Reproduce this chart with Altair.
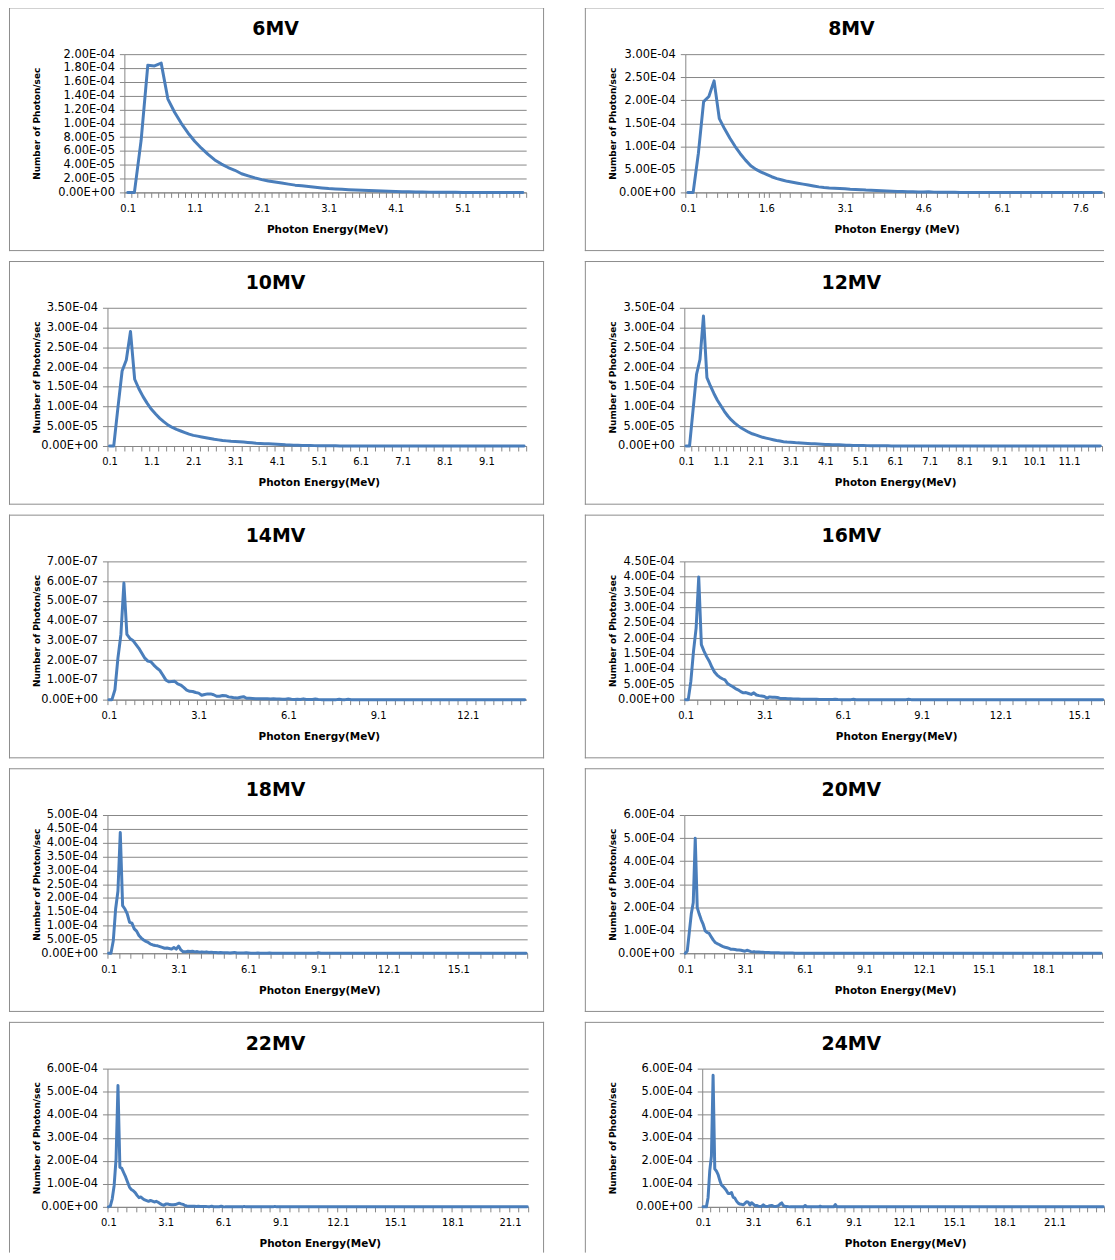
import altair as alt
import pandas as pd

# ---------------- data ----------------
TITLES = ["6MV", "8MV", "10MV", "12MV", "14MV", "16MV", "18MV", "20MV", "22MV", "24MV"]
X_TITLES = ["Photon Energy(MeV)", "Photon Energy (MeV)"] + ["Photon Energy(MeV)"] * 8

# spectra: values at 0.1, 0.2, 0.3 ... MeV (units given in UNITS)
V6 = [0, 0, 0.75, 1.84, 1.83, 1.87, 1.35, 1.16, 1.00, 0.86,
      0.74, 0.64, 0.55, 0.47, 0.41, 0.36, 0.32, 0.27, 0.24, 0.21,
      0.185, 0.165, 0.15, 0.135, 0.12, 0.105, 0.095, 0.085, 0.075, 0.065,
      0.055, 0.05, 0.045, 0.04, 0.035, 0.032, 0.028, 0.024, 0.02, 0.016,
      0.012, 0.01, 0.008, 0.006, 0.005, 0.004, 0.003, 0.002, 0.002, 0.001,
      0, 0, 0, 0, 0, 0, 0, 0, 0, 0]
V8 = [0, 0, 0.85, 1.97, 2.08, 2.42, 1.60, 1.38, 1.18, 1.00,
      0.84, 0.70, 0.58, 0.50, 0.44, 0.39, 0.34, 0.30, 0.27, 0.24,
      0.22, 0.20, 0.18, 0.16, 0.14, 0.12, 0.105, 0.095, 0.09, 0.085,
      0.08, 0.07, 0.065, 0.06, 0.05, 0.045, 0.04, 0.035, 0.03, 0.025,
      0.02, 0.018, 0.015, 0.012, 0.01, 0.008, 0.012, 0.006, 0.004, 0.003,
      0.002, 0.001, 0]
V10 = [0, 0, 0.97, 1.90, 2.18, 2.90, 1.69, 1.45, 1.25, 1.08,
       0.93, 0.81, 0.70, 0.61, 0.53, 0.47, 0.42, 0.38, 0.34, 0.30,
       0.27, 0.25, 0.23, 0.21, 0.19, 0.17, 0.155, 0.14, 0.13, 0.12,
       0.115, 0.11, 0.10, 0.09, 0.08, 0.07, 0.065, 0.06, 0.055, 0.05,
       0.045, 0.04, 0.03, 0.025, 0.02, 0.018, 0.015, 0.013, 0.011, 0.01,
       0.009, 0.008, 0.007, 0.006, 0.005, 0.003, 0.002, 0.001, 0]
V12 = [0, 0, 0.9, 1.81, 2.19, 3.29, 1.73, 1.52, 1.33, 1.16,
       1.02, 0.88, 0.76, 0.66, 0.58, 0.51, 0.45, 0.40, 0.35, 0.31,
       0.28, 0.25, 0.22, 0.20, 0.18, 0.16, 0.14, 0.125, 0.11, 0.10,
       0.095, 0.09, 0.08, 0.075, 0.07, 0.065, 0.06, 0.055, 0.05, 0.045,
       0.04, 0.04, 0.035, 0.035, 0.03, 0.025, 0.02, 0.017, 0.015, 0.013,
       0.012, 0.011, 0.01, 0.009, 0.008, 0.007, 0.006, 0.005, 0.004, 0.003,
       0.002, 0.001, 0]
V14 = [0, 0, 0.5, 2.1, 3.3, 5.9, 3.3, 3.1, 3.0, 2.8,
       2.6, 2.35, 2.1, 1.95, 1.92, 1.75, 1.6, 1.48, 1.25, 1.0,
       0.9, 0.92, 0.93, 0.8, 0.74, 0.62, 0.48, 0.42, 0.41, 0.36,
       0.33, 0.22, 0.26, 0.29, 0.29, 0.25, 0.17, 0.17, 0.21, 0.2,
       0.14, 0.12, 0.09, 0.08, 0.12, 0.15, 0.07, 0.07, 0.06, 0.05,
       0.05, 0.04, 0.05, 0.04, 0.03, 0.04, 0.03, 0.03, 0.02, 0.02,
       0.05, 0.02, 0.01, 0.02, 0.01, 0.04, 0.01, 0.01, 0.01, 0.03,
       0.01, 0, 0, 0, 0, 0, 0, 0.02, 0, 0, 0.02, 0]
V16 = [0, 0, 0.6, 1.57, 2.33, 3.99, 1.79, 1.58, 1.40, 1.25,
       1.06, 0.90, 0.80, 0.73, 0.68, 0.64, 0.52, 0.47, 0.42, 0.36,
       0.32, 0.26, 0.22, 0.23, 0.20, 0.17, 0.22, 0.15, 0.13, 0.12,
       0.10, 0.05, 0.09, 0.08, 0.075, 0.07, 0.04, 0.04, 0.035, 0.03,
       0.03, 0.025, 0.02, 0.02, 0.015, 0.015, 0.01, 0.01, 0.01, 0.01,
       0.01, 0.008, 0.006, 0.005, 0.004, 0.003, 0.002, 0.01, 0.002, 0,
       0, 0, 0, 0, 0.01, 0]
V18 = [0, 0, 0.45, 1.60, 2.25, 4.37, 1.72, 1.60, 1.42, 1.12,
       1.09, 0.88, 0.80, 0.64, 0.55, 0.48, 0.43, 0.39, 0.33, 0.30,
       0.28, 0.27, 0.24, 0.21, 0.18, 0.19, 0.17, 0.15, 0.21, 0.15,
       0.26, 0.12, 0.05, 0.05, 0.07, 0.06, 0.07, 0.05, 0.06, 0.04,
       0.05, 0.04, 0.05, 0.03, 0.04, 0.03, 0.03, 0.02, 0.03, 0.02,
       0.02, 0.02, 0.01, 0.02, 0.03, 0.01, 0.01, 0.01, 0.01, 0.02,
       0.01, 0, 0, 0, 0.01, 0, 0, 0, 0, 0.01, 0]
V20 = [0, 0.1, 0.9, 1.7, 2.2, 4.99, 1.98, 1.7, 1.45, 1.25,
       0.97, 0.90, 0.86, 0.72, 0.58, 0.47, 0.42, 0.38, 0.33, 0.29,
       0.26, 0.24, 0.21, 0.17, 0.17, 0.16, 0.14, 0.14, 0.13, 0.11,
       0.09, 0.13, 0.10, 0.07, 0.06, 0.06, 0.05, 0.05, 0.04, 0.04,
       0.035, 0.03, 0.03, 0.025, 0.025, 0.02, 0.02, 0.02, 0.015, 0.015,
       0.01, 0.01, 0.01, 0.008, 0.006, 0.005, 0.004, 0.003, 0.002, 0.005,
       0.002, 0.001, 0, 0, 0.005, 0]
V22 = [0, 0.03, 0.35, 0.93, 2.08, 5.27, 1.72, 1.67, 1.48, 1.30,
       1.08, 0.86, 0.75, 0.70, 0.62, 0.50, 0.40, 0.43, 0.35, 0.30,
       0.27, 0.24, 0.28, 0.25, 0.21, 0.24, 0.20, 0.14, 0.10, 0.07,
       0.12, 0.13, 0.10, 0.09, 0.09, 0.10, 0.13, 0.16, 0.13, 0.11,
       0.06, 0.04, 0.03, 0.03, 0.03, 0.03, 0.02, 0.03, 0.02, 0.02,
       0.02, 0.015, 0.01, 0.01, 0.03, 0.01, 0.01, 0.01, 0.005, 0.03,
       0.005, 0]
V24 = [0, 0, 0, 0.4, 1.56, 2.2, 5.71, 1.65, 1.55, 1.40,
       1.15, 0.95, 0.88, 0.80, 0.70, 0.58, 0.58, 0.62, 0.42, 0.38,
       0.25, 0.16, 0.12, 0.11, 0.09, 0.15, 0.22, 0.20, 0.08, 0.18,
       0.12, 0.05, 0.06, 0.03, 0.02, 0.02, 0.09, 0.03, 0.02, 0.03,
       0.05, 0.06, 0.03, 0.02, 0.03, 0.05, 0.12, 0.17, 0.05, 0.02,
       0.02, 0.01, 0]
HEADS = [V6, V8, V10, V12, V14, V16, V18, V20, V22, V24]

# sparse points further out in the tail (energy, value)
TAIL_E = [[], [], [], [], [], [8.5, 8.6, 8.7], [9.0, 9.1, 9.2], [7.5, 7.6, 7.7],
          [7.1, 7.2, 7.3, 8.7, 8.8, 8.9], [6.1, 6.2, 6.3, 7.0, 7.1, 7.2, 7.9, 8.0, 8.1]]
TAIL_V = [[], [], [], [], [], [0, 0.01, 0], [0, 0.015, 0], [0, 0.004, 0],
          [0, 0.02, 0, 0, 0.02, 0], [0, 0.06, 0, 0, 0.03, 0, 0, 0.10, 0]]
E_MAX = [6.0, 8.0, 10.0, 12.0, 14.0, 16.0, 18.0, 21.0, 22.0, 24.0]
UNITS = [1e-4, 1e-4, 1e-4, 1e-4, 1e-7, 1e-4, 1e-4, 1e-4, 1e-4, 1e-4]

# axes
Y_MAX = [2.0e-4, 3.0e-4, 3.5e-4, 3.5e-4, 7.0e-7, 4.5e-4, 5.0e-4, 6.0e-4, 6.0e-4, 6.0e-4]
Y_STEP = [2e-5, 5e-5, 5e-5, 5e-5, 1e-7, 5e-5, 5e-5, 1e-4, 1e-4, 1e-4]
X_LABELS = [
    [0.1, 1.1, 2.1, 3.1, 4.1, 5.1],
    [0.1, 1.6, 3.1, 4.6, 6.1, 7.6],
    [0.1, 1.1, 2.1, 3.1, 4.1, 5.1, 6.1, 7.1, 8.1, 9.1],
    [0.1, 1.1, 2.1, 3.1, 4.1, 5.1, 6.1, 7.1, 8.1, 9.1, 10.1, 11.1],
    [0.1, 3.1, 6.1, 9.1, 12.1],
    [0.1, 3.1, 6.1, 9.1, 12.1, 15.1],
    [0.1, 3.1, 6.1, 9.1, 12.1, 15.1],
    [0.1, 3.1, 6.1, 9.1, 12.1, 15.1, 18.1],
    [0.1, 3.1, 6.1, 9.1, 12.1, 15.1, 18.1, 21.1],
    [0.1, 3.1, 6.1, 9.1, 12.1, 15.1, 18.1, 21.1],
]
TICK_EVERY = [1, 2, 2, 2, 3, 5, 5, 5, 5, 5]  # categories between x tick marks

# ---------------- layout / style ----------------
COL_L = [99, 100]        # frame-to-plot offset shared by each column
INSET = [17, 1, 0, 0, 0, 0, 0, 0, 0, 18]   # extra indent of the value axis
PLOT_W = [404, 421, 421, 420, 421, 422, 422, 420, 423, 404]
BOX_W = [538, 522]
PLOT_H = 139
TOP = 47
BLUE = "#4A7EBB"
GRID = "#868686"
FRAME = "#8C8C8C"
FONT = "DejaVu Sans"
YEXPR = "replace(replace(format(datum.value, '.2e'), 'e-', 'E-0'), 'e+', 'E+0')"


def make_panel(k):
    col = k % 2
    right = col == 1
    last_row = k >= 8
    L, D, Wv, H = COL_L[col], INSET[k], PLOT_W[k], PLOT_H
    W = D + Wv
    R = BOX_W[col] - L - W
    B = 46 if last_row else 59
    ncat = int(round(E_MAX[k] * 10))

    head = HEADS[k]
    es = [round(0.1 * (i + 1), 1) for i in range(len(head))] + TAIL_E[k] + [E_MAX[k]]
    vs = [v * UNITS[k] for v in head] + [v * UNITS[k] for v in TAIL_V[k]] + [0.0]
    df = pd.DataFrame({"E": es, "V": vs}).sort_values("E")

    xs = alt.Scale(domain=[0.05, E_MAX[k] + 0.05], range=[D, W], nice=False, zero=False)
    ys = alt.Scale(domain=[0, Y_MAX[k]], nice=False, zero=True)
    nyt = int(round(Y_MAX[k] / Y_STEP[k]))
    yvals = [round(j * Y_STEP[k], 12) for j in range(nyt + 1)]

    # x ticks sit on category boundaries; labels are shifted half a category
    lab_bounds = [round(v - 0.05, 2) for v in X_LABELS[k]]
    tick_bounds = [round(0.05 + 0.1 * j, 2) for j in range(0, ncat + 1, TICK_EVERY[k])]
    xvals = sorted(set(tick_bounds) | set(lab_bounds))
    xexpr = ("indexof([" + ",".join(repr(v) for v in lab_bounds) +
             "], datum.value) >= 0 ? format(datum.value + 0.05, '.1f') : ''")

    line = alt.Chart(df).mark_line(
        color=BLUE, strokeWidth=3, strokeJoin="round", strokeCap="round"
    ).encode(
        x=alt.X("E:Q", scale=xs, axis=alt.Axis(
            values=xvals, labelExpr=xexpr, grid=False,
            ticks=True, tickSize=5, tickColor=GRID, tickWidth=1,
            domainColor=GRID, domainWidth=1,
            labelFont=FONT, labelFontSize=10, labelColor="#000", labelPadding=6,
            labelOffset=Wv / ncat / 2, labelFlush=False, labelOverlap=False,
            title=X_TITLES[k], titleFont=FONT, titleFontSize=10.5, titleFontWeight="bold",
            titleColor="#000", titleX=D + Wv / 2 + 2, titleY=37,
            titleBaseline="middle", titleAlign="center")),
        y=alt.Y("V:Q", scale=ys, axis=alt.Axis(
            values=yvals, labelExpr=YEXPR, grid=True, gridColor=GRID, gridWidth=1,
            ticks=True, tickSize=5, tickColor=GRID, domainColor=GRID, domainWidth=1,
            offset=-D,
            labelFont=FONT, labelFontSize=11.5, labelColor="#000", labelPadding=5,
            labelFlush=False, labelOverlap=False,
            title="Number of Photon/sec", titleFont=FONT, titleFontSize=9,
            titleFontWeight="bold", titleColor="#000",
            titleX=28 - L - D, titleY=H / 2, titleAngle=270,
            titleBaseline="middle", titleAlign="center")),
    )

    one = pd.DataFrame({"a": [0]})
    rule = alt.Chart(one).mark_rule(color=FRAME, strokeWidth=1)
    frames = [
        rule.encode(x=alt.value(-L), x2=alt.value(W + R), y=alt.value(-TOP + 0.5)),
        rule.encode(x=alt.value(-L + 0.5), y=alt.value(-TOP), y2=alt.value(H + B)),
    ]
    if not right:
        frames.append(rule.encode(x=alt.value(W + R - 0.5), y=alt.value(-TOP), y2=alt.value(H + B)))
    if not last_row:
        frames.append(rule.encode(x=alt.value(-L), x2=alt.value(W + R), y=alt.value(H + B - 0.5)))

    title = alt.Chart(pd.DataFrame({"t": [TITLES[k]]})).mark_text(
        font=FONT, fontSize=19, fontWeight="bold", color="#000",
        align="center", baseline="middle"
    ).encode(text="t:N", x=alt.value(268 - L), y=alt.value(-25))

    return alt.layer(*frames, line, title).properties(width=W, height=H)


chart = alt.concat(
    *[make_panel(k) for k in range(10)],
    columns=2, spacing={"row": 8, "column": 39}
).properties(
    padding={"top": -5, "left": 0, "right": 0, "bottom": 0}
).configure_view(strokeWidth=0)

chart.save("out.html", embed_options={"renderer": "svg", "actions": False})
